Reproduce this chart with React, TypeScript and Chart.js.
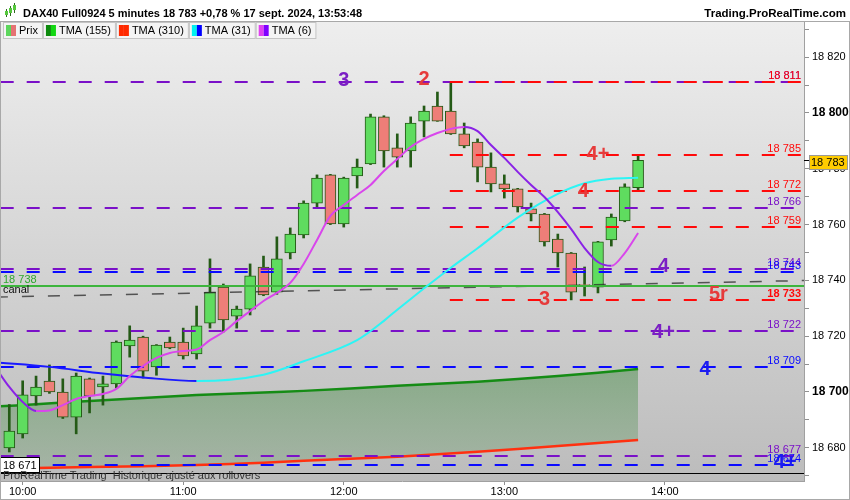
import React, { useEffect, useRef } from 'react';
import { Chart, registerables } from 'chart.js';

Chart.register(...registerables);

const FONT = "'Liberation Sans', Arial, sans-serif";

// ---- bar times (5 minutes) ----
const times = [
  '09:55', '10:00', '10:05', '10:10', '10:15', '10:20', '10:25', '10:30', '10:35', '10:40', '10:45', '10:50',
  '10:55', '11:00', '11:05', '11:10', '11:15', '11:20', '11:25', '11:30', '11:35', '11:40', '11:45', '11:50',
  '11:55', '12:00', '12:05', '12:10', '12:15', '12:20', '12:25', '12:30', '12:35', '12:40', '12:45', '12:50',
  '12:55', '13:00', '13:05', '13:10', '13:15', '13:20', '13:25', '13:30', '13:35', '13:40', '13:45', '13:50',
];

// ---- OHLC ----
const opens = [
  18680, 18685, 18698.6, 18703.9, 18700, 18691, 18704.7, 18701.8, 18702.9, 18716.5, 18719.7, 18709,
  18717.9, 18717.9, 18713.6, 18724.7, 18737.6, 18727.2, 18729.7, 18744.8, 18735.8, 18749.8, 18756.3, 18767.7,
  18777.8, 18760.2, 18777.4, 18781.7, 18798.6, 18787.5, 18786.4, 18797.1, 18802.5, 18800.7, 18792.5, 18789.6,
  18780.6, 18774.6, 18772.8, 18765.6, 18763.8, 18754.8, 18749.8, 18738.5, 18737.6, 18754.5, 18761.3, 18773.2,
];
const highs = [
  18695.5, 18704, 18705.7, 18709.7, 18704.7, 18706.8, 18705, 18705.7, 18718.3, 18723.7, 18720, 18717,
  18719.7, 18722.9, 18730.8, 18747.7, 18738.7, 18730.8, 18745.9, 18748.7, 18755.6, 18758.8, 18768.5, 18777.8,
  18778, 18777, 18783.5, 18799.6, 18799, 18792.5, 18798.6, 18802.5, 18807.5, 18811, 18796.4, 18790.7,
  18785.7, 18777.8, 18773, 18767.7, 18764, 18756.6, 18750, 18744.8, 18754, 18763.8, 18774.6, 18784.5,
];
const lows = [
  18678.5, 18683.5, 18695.3, 18699.5, 18690.5, 18685, 18692.5, 18695.3, 18701.4, 18712.5, 18705, 18706,
  18715.5, 18711.8, 18711.8, 18722.9, 18721.5, 18722.9, 18727.6, 18734.5, 18735, 18747.7, 18755.2, 18766.3,
  18760, 18759.1, 18773.1, 18781.5, 18780.6, 18780.6, 18780.6, 18791.4, 18797, 18792.3, 18787.5, 18775.3,
  18771.7, 18769.5, 18764.5, 18761.3, 18752.3, 18744.8, 18733, 18734.4, 18735.5, 18752.3, 18761, 18772.4,
];
const closes = [
  18686, 18699, 18701.8, 18700, 18691, 18705.7, 18698.6, 18702.9, 18717.9, 18718.6, 18707.5, 18716.8,
  18715.8, 18712.9, 18723.7, 18735.8, 18725.8, 18729.7, 18741.6, 18734.8, 18747.7, 18756.6, 18767.7, 18776.7,
  18760.2, 18776.7, 18780.6, 18798.6, 18786.4, 18784.2, 18796.4, 18800.7, 18797.1, 18792.5, 18788.2, 18780.6,
  18774.6, 18772.8, 18766.3, 18763.8, 18753.8, 18749.8, 18735.8, 18738.3, 18753.8, 18762.7, 18773.5, 18783,
];

// ---- moving averages (bar index, value) ----
const tmaLongX = [-1, 2, 6, 14, 19, 22, 29, 35, 41, 47];
const tma155 = [18694.8, 18695.6, 18696.8, 18698.9, 18699.8, 18700.4, 18702.2, 18703.7, 18705.7, 18708.2];
const tma310 = [18672.2, 18672.8, 18673.1, 18673.8, 18674.6, 18675.4, 18676.8, 18678.6, 18680.6, 18682.8];

const tma31X = [-1, 3, 7, 10, 14, 19, 22, 26, 28, 29, 33, 35, 38, 41, 43, 45, 47];
const tma31 = [
  18710.6, 18709, 18706.6, 18705.2, 18703.9, 18706.2, 18711, 18718.6, 18725.5, 18729.5, 18744.5, 18751.5,
  18762.5, 18771, 18774.8, 18776.4, 18776.8,
];

const tma6X = [
  -1, 0, 1, 2, 3, 4, 5, 6, 7, 8, 9, 10, 11, 12, 13, 14, 15, 16, 17, 18, 19, 20, 21, 22, 23, 24,
  25, 26, 27, 28, 29, 30, 31, 32, 33, 34, 35, 36, 37, 38, 39, 40, 41, 42, 43, 44, 45, 46, 47,
];
const tma6 = [
  18708.6, 18701.8, 18696.4, 18693.2, 18693.4, 18695.3, 18697.5, 18698.6, 18699.3, 18701.1, 18705.7, 18709.3,
  18712.2, 18714, 18714.7, 18715.2, 18718.6, 18721.5, 18725.4, 18729, 18732.6, 18735.5, 18739.1, 18745.9,
  18754.5, 18763.1, 18767, 18770.6, 18774.2, 18779.2, 18783.5, 18787.8, 18790.7, 18792.8, 18794.3, 18795,
  18793.5, 18788.5, 18783.9, 18778.9, 18774.2, 18769.9, 18764.5, 18758.4, 18751.6, 18746.6, 18745.2, 18749.8,
  18757,
];

// ---- axes ----
const xTickIdx = [1, 13, 25, 37, 49];
const xTickLabels = ['10:00', '11:00', '12:00', '13:00', '14:00'];
const xMin = -0.695;
const xMax = 59.4;
const yMin = 18668.1;
const yMax = 18832.6;
const yTickValues = [
  18670, 18680, 18690, 18700, 18710, 18720, 18730, 18740, 18750, 18760, 18770, 18780, 18790, 18800, 18810,
  18820, 18830,
];
const yBoldTicks = [18700, 18800];

// ---- horizontal levels ----
const levelValues = [18811, 18811, 18785, 18772, 18766, 18759, 18744, 18743, 18733, 18722, 18709, 18677, 18674];
const levelKinds = ['purple', 'red', 'red', 'red', 'purple', 'red', 'purple', 'blue', 'red', 'purple', 'blue', 'purple', 'blue'];
const levelStartIdx = [null, 33, 33, 33, null, 33, null, null, 33, null, null, null, null];
const levelBold = [18733];
const channelLevel = 18738;
const dayLow = 18671;
const canalX = [-1, 60];
const canalY = [18734, 18740];

// ---- wave annotations ----
const annTexts = ['3', '2', '4+', '4', '4', '3', '5r', '4+', '4', '4+'];
const annIdx = [25, 31, 44, 42.9, 48.9, 40, 53, 48.9, 52, 58];
const annValues = [18811.6, 18812.1, 18785.1, 18772, 18745, 18733.2, 18734.9, 18721.3, 18708.2, 18674.9];
const annKinds = ['purple', 'red', 'red', 'red', 'purple', 'red', 'red', 'purple', 'blue', 'blue'];

// ---- legend ----
const legendLabels = ['Prix', 'TMA (155)', 'TMA (310)', 'TMA (31)', 'TMA (6)'];
const legendColorsA = ['#5cd65c', '#0d8a0d', '#ff2a00', '#00f0f0', '#e040f0'];
const legendColorsB = ['#e57373', '#13d813', '#ff2a00', '#0000ff', '#8000ff'];

const titleText = 'DAX40 Full0924 5 minutes 18 783 +0,78 % 17 sept. 2024, 13:53:48';
const siteText = 'Trading.ProRealTime.com';
const footerText = 'ProRealTime Trading  Historique ajusté aux rollovers';

const LEVEL_COLORS: Record<string, string> = { purple: '#7a10c8', red: '#ff0a0a', blue: '#0a0aff' };
const ANN_COLORS: Record<string, string> = { purple: '#7b1fc4', red: '#e63b3b', blue: '#1c1cf0' };
const GREEN_BODY = '#5fdc5f';
const RED_BODY = '#ee7e78';
const CANDLE_EDGE = '#245a16';

const fmt = (v: number) => {
  const s = String(Math.round(v));
  return s.slice(0, s.length - 3) + ' ' + s.slice(-3);
};

export default function App() {
  const ref = useRef<HTMLCanvasElement>(null);

  useEffect(() => {
    document.body.style.margin = '0';
    const canvas = ref.current!;
    const idx = opens.map((_, i) => i);
    const wickData = idx.map((i) => ({ x: i, y: [lows[i], highs[i]] }));
    const bodyData = idx.map((i) => ({ x: i, y: [opens[i], closes[i]] }));
    const bodyColors = idx.map((i) => (closes[i] >= opens[i] ? GREEN_BODY : RED_BODY));
    const BODY_DS = 3;

    const fillTop = Math.max(...tma155);
    const fillBottom = Math.min(...tma310);

    const overlay = {
      id: 'overlay',
      beforeDraw(chart: any) {
        const { ctx, chartArea: a } = chart;
        ctx.save();
        ctx.fillStyle = '#ffffff';
        ctx.fillRect(0, 0, chart.width, chart.height);
        const g = ctx.createLinearGradient(0, a.top, 0, a.bottom);
        g.addColorStop(0, '#eeeeee');
        g.addColorStop(1, '#bcbcbc');
        ctx.fillStyle = g;
        ctx.fillRect(a.left, a.top, a.right - a.left, a.bottom - a.top);
        ctx.restore();
      },
      afterDatasetDraw(chart: any, args: any) {
        if (args.index !== BODY_DS) return;
        const { ctx, chartArea: a, scales } = chart;
        const xs = scales.x;
        const ys = scales.y;
        ctx.save();
        ctx.beginPath();
        ctx.rect(a.left, a.top, a.right - a.left, a.bottom - a.top);
        ctx.clip();
        // dashed levels
        levelValues.forEach((v, i) => {
          const y = Math.round(ys.getPixelForValue(v));
          const s = levelStartIdx[i];
          const x0 = s === null ? a.left - 25.3 : xs.getPixelForValue(s) - 1;
          ctx.strokeStyle = LEVEL_COLORS[levelKinds[i]];
          ctx.lineWidth = 2;
          ctx.setLineDash([13, 13]);
          ctx.beginPath();
          ctx.moveTo(x0, y);
          ctx.lineTo(a.right, y);
          ctx.stroke();
        });
        // canal (sloped dashed)
        ctx.setLineDash([12, 14]);
        ctx.strokeStyle = 'rgba(40,40,40,0.75)';
        ctx.lineWidth = 1.5;
        ctx.beginPath();
        ctx.moveTo(xs.getPixelForValue(canalX[0]), ys.getPixelForValue(canalY[0]));
        ctx.lineTo(xs.getPixelForValue(canalX[1]), ys.getPixelForValue(canalY[1]));
        ctx.stroke();
        ctx.setLineDash([]);
        // channel solid green
        const gy = Math.round(ys.getPixelForValue(channelLevel));
        ctx.strokeStyle = '#3db53d';
        ctx.lineWidth = 2;
        ctx.beginPath();
        ctx.moveTo(a.left, gy);
        ctx.lineTo(a.right, gy);
        ctx.stroke();
        // day low line
        const ly = Math.round(ys.getPixelForValue(dayLow)) + 0.5;
        ctx.strokeStyle = '#000';
        ctx.lineWidth = 1;
        ctx.beginPath();
        ctx.moveTo(a.left, ly);
        ctx.lineTo(a.right, ly);
        ctx.stroke();
        ctx.restore();
      },
      afterDatasetsDraw(chart: any) {
        const { ctx, chartArea: a, scales } = chart;
        const xs = scales.x;
        const ys = scales.y;
        ctx.save();
        ctx.beginPath();
        ctx.rect(a.left, a.top, a.right - a.left, a.bottom - a.top);
        ctx.clip();
        // wave labels
        ctx.font = `bold 20px ${FONT}`;
        ctx.textAlign = 'center';
        ctx.textBaseline = 'middle';
        annTexts.forEach((t, i) => {
          ctx.fillStyle = ANN_COLORS[annKinds[i]];
          ctx.fillText(t, xs.getPixelForValue(annIdx[i]), ys.getPixelForValue(annValues[i]));
        });
        // level value labels
        ctx.textAlign = 'right';
        ctx.textBaseline = 'alphabetic';
        levelValues.forEach((v, i) => {
          const y = Math.round(ys.getPixelForValue(v));
          ctx.font = `${levelBold.includes(v) ? 'bold ' : ''}11px ${FONT}`;
          ctx.fillStyle = LEVEL_COLORS[levelKinds[i]];
          ctx.fillText(fmt(v), a.right - 3, y - 3);
        });
        // channel labels on left
        const gy = ys.getPixelForValue(channelLevel);
        ctx.textAlign = 'left';
        ctx.font = `11px ${FONT}`;
        ctx.fillStyle = '#2fa82f';
        ctx.fillText(fmt(channelLevel), a.left + 3, gy - 2.5);
        ctx.fillStyle = '#111';
        ctx.fillText('canal', a.left + 3, gy + 7.5);
        // day low box
        const ly = Math.round(ys.getPixelForValue(dayLow));
        ctx.fillStyle = '#fff';
        ctx.fillRect(a.left + 0.5, ly - 15.5, 39, 15);
        ctx.strokeStyle = '#000';
        ctx.lineWidth = 1;
        ctx.strokeRect(a.left + 0.5, ly - 15.5, 39, 15);
        ctx.fillStyle = '#000';
        ctx.fillText(fmt(dayLow), a.left + 3, ly - 4);
        // footer
        ctx.fillStyle = '#333';
        ctx.fillText(footerText, a.left + 3, a.bottom - 2);
        ctx.restore();
      },
      afterDraw(chart: any) {
        const { ctx, chartArea: a, scales } = chart;
        const ys = scales.y;
        ctx.save();
        // header
        ctx.fillStyle = '#fff';
        ctx.fillRect(0, 0, chart.width, 21);
        ctx.strokeStyle = '#b4b4b4';
        ctx.lineWidth = 1;
        ctx.beginPath();
        ctx.moveTo(0, 21.5);
        ctx.lineTo(chart.width, 21.5);
        ctx.stroke();
        // title icon: small candles
        const icon = [
          [5, 11, 15, 9, 17],
          [9, 8, 13, 6, 16],
          [13, 5, 10, 3, 13],
        ];
        icon.forEach(([x, t, b, wt, wb]) => {
          ctx.fillStyle = '#2d6a1d';
          ctx.fillRect(x + 1, wt, 1, wb - wt);
          ctx.fillStyle = '#55c83c';
          ctx.fillRect(x, t, 3, b - t);
        });
        ctx.fillStyle = '#000';
        ctx.font = `bold 11px ${FONT}`;
        ctx.textAlign = 'left';
        ctx.textBaseline = 'alphabetic';
        ctx.fillText(titleText, 23, 16.5);
        ctx.textAlign = 'right';
        ctx.font = `bold 11.5px ${FONT}`;
        ctx.fillText(siteText, 846, 16.5);
        // legend strip
        ctx.font = `11px ${FONT}`;
        ctx.textAlign = 'left';
        ctx.textBaseline = 'middle';
        let x = 3;
        legendLabels.forEach((lab, i) => {
          const tw = ctx.measureText(lab).width;
          const w = 3 + 10 + 3 + tw + 4;
          ctx.fillStyle = '#f4f4f4';
          ctx.fillRect(x + 0.5, 22.5, w, 16);
          ctx.strokeStyle = '#c4c4c4';
          ctx.strokeRect(x + 0.5, 22.5, w, 16);
          ctx.fillStyle = legendColorsA[i];
          ctx.fillRect(x + 3, 25, 5, 11);
          ctx.fillStyle = legendColorsB[i];
          ctx.fillRect(x + 8, 25, 5, 11);
          ctx.fillStyle = '#000';
          ctx.fillText(lab, x + 16, 31);
          x += w + 1;
        });
        // current price box
        const last = closes[closes.length - 1];
        const py = Math.round(ys.getPixelForValue(last));
        ctx.strokeStyle = '#000';
        ctx.beginPath();
        ctx.moveTo(a.right, py + 0.5);
        ctx.lineTo(a.right + 6, py + 0.5);
        ctx.stroke();
        ctx.fillStyle = '#ffcc00';
        ctx.fillRect(a.right + 5.5, py - 4.5, 38, 14);
        ctx.strokeStyle = '#999';
        ctx.strokeRect(a.right + 5.5, py - 4.5, 38, 14);
        ctx.fillStyle = '#000';
        ctx.font = `11px ${FONT}`;
        ctx.textBaseline = 'middle';
        ctx.fillText(fmt(last), a.right + 7, py + 2.5);
        // frame
        ctx.strokeStyle = '#a8a8a8';
        ctx.strokeRect(0.5, 21.5, chart.width - 1, chart.height - 22);
        ctx.restore();
      },
    };

    const chart = new Chart(canvas, {
      type: 'bar',
      data: {
        datasets: [
          {
            type: 'line',
            label: 'TMA (155)',
            data: tmaLongX.map((x, i) => ({ x, y: tma155[i] })),
            borderColor: '#158c15',
            borderWidth: 2.5,
            pointRadius: 0,
            tension: 0.2,
            fill: '+1',
            backgroundColor: (c: any) => {
              const ch = c.chart;
              const ys = ch.scales && ch.scales.y;
              if (!ys || !ch.chartArea) return 'rgba(0,108,0,0.25)';
              const g = ch.ctx.createLinearGradient(0, ys.getPixelForValue(fillTop), 0, ys.getPixelForValue(fillBottom));
              g.addColorStop(0, 'rgba(0,108,0,0.32)');
              g.addColorStop(1, 'rgba(0,110,0,0.13)');
              return g;
            },
            order: 10,
          } as any,
          {
            type: 'line',
            label: 'TMA (310)',
            data: tmaLongX.map((x, i) => ({ x, y: tma310[i] })),
            borderColor: '#ff3010',
            borderWidth: 2.5,
            pointRadius: 0,
            tension: 0.2,
            fill: false,
            order: 9,
          } as any,
          {
            type: 'bar',
            label: 'wicks',
            data: wickData,
            backgroundColor: CANDLE_EDGE,
            borderWidth: 0,
            barThickness: 2,
            grouped: false,
            order: 8,
          } as any,
          {
            type: 'bar',
            label: 'Prix',
            data: bodyData,
            backgroundColor: bodyColors,
            borderColor: CANDLE_EDGE,
            borderWidth: 1,
            borderSkipped: false,
            barThickness: 11,
            grouped: false,
            order: 7,
          } as any,
          {
            type: 'line',
            label: 'TMA (31)',
            data: tma31X.map((x, i) => ({ x, y: tma31[i] })),
            borderColor: '#1a1aff',
            segment: {
              borderColor: (c: any) => (c.p1.parsed.y >= c.p0.parsed.y ? '#2cf5f5' : '#1a1aff'),
            },
            borderWidth: 2,
            pointRadius: 0,
            cubicInterpolationMode: 'monotone',
            fill: false,
            order: 3,
          } as any,
          {
            type: 'line',
            label: 'TMA (6)',
            data: tma6X.map((x, i) => ({ x, y: tma6[i] })),
            borderColor: '#8a22e6',
            segment: {
              borderColor: (c: any) => (c.p1.parsed.y >= c.p0.parsed.y ? '#d946ec' : '#8a22e6'),
            },
            borderWidth: 2,
            pointRadius: 0,
            cubicInterpolationMode: 'monotone',
            fill: false,
            order: 2,
          } as any,
        ],
      },
      options: {
        responsive: false,
        animation: false,
        events: [],
        layout: { padding: { top: 22, left: 0, right: 0, bottom: 0 } },
        plugins: { legend: { display: false }, tooltip: { enabled: false }, title: { display: false } },
        scales: {
          x: {
            type: 'linear',
            min: xMin,
            max: xMax,
            offset: false,
            afterBuildTicks: (s: any) => {
              s.ticks = xTickIdx.map((v) => ({ value: v }));
            },
            afterFit: (s: any) => {
              s.height = 19;
            },
            ticks: {
              autoSkip: false,
              maxRotation: 0,
              padding: 0,
              color: '#000',
              font: { family: FONT, size: 11 },
              callback: (v: any) => {
                const k = xTickIdx.indexOf(Number(v));
                return k >= 0 ? xTickLabels[k] : '';
              },
            },
            grid: { drawOnChartArea: false, drawTicks: true, tickLength: 4, color: '#909090', offset: false },
            border: { display: true, color: '#a0a0a0' },
          },
          y: {
            type: 'linear',
            position: 'right',
            min: yMin,
            max: yMax,
            afterBuildTicks: (s: any) => {
              s.ticks = yTickValues.map((v) => ({ value: v }));
            },
            afterFit: (s: any) => {
              s.width = 46;
            },
            ticks: {
              padding: 3,
              color: '#000',
              font: (c: any) => {
                const b = c.tick && yBoldTicks.includes(c.tick.value);
                return { family: FONT, size: b ? 12 : 11, weight: b ? 'bold' : 'normal' };
              },
              callback: (v: any) => (Number(v) % 20 === 0 ? fmt(Number(v)) : ''),
            },
            grid: { drawOnChartArea: false, drawTicks: true, tickLength: 5, color: '#909090' },
            border: { display: true, color: '#a0a0a0' },
          },
        },
      } as any,
      plugins: [overlay as any],
    });

    return () => chart.destroy();
  }, []);

  return (
    <canvas
      ref={ref}
      width={850}
      height={500}
      style={{ display: 'block', position: 'absolute', left: 0, top: 0, width: 850, height: 500 }}
    />
  );
}
